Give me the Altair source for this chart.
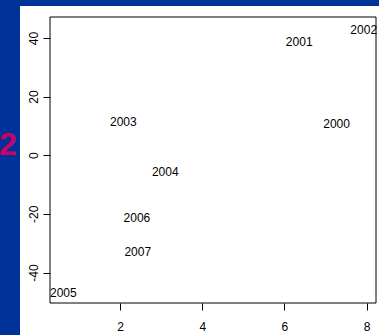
import altair as alt
import pandas as pd

# Year labels placed at their (x, y) scores
years = ["2000", "2001", "2002", "2003", "2004", "2005", "2006", "2007"]
x_vals = [7.27, 6.36, 7.93, 2.08, 3.10, 0.62, 2.41, 2.43]
y_vals = [10.8, 38.6, 42.8, 11.2, -5.8, -47.1, -21.5, -32.9]

x_ticks = [2, 4, 6, 8]
y_ticks = [-40, -20, 0, 20, 40]
x_domain = [0.295, 8.229]
y_domain = [-50.4, 47.15]

W, H = 326, 286
FONT = "Liberation Sans"
BLUE = "#003399"

df = pd.DataFrame({"year": years, "x": x_vals, "y": y_vals})
one = alt.Data(values=[{"k": 0}])

# white panel behind the plot
panel = alt.Chart(one).mark_rect(fill="white", clip=False).encode(
    x=alt.value(-30), x2=alt.value(W + 3), y=alt.value(-11), y2=alt.value(H + 32)
)

labels = alt.Chart(df).mark_text(
    font=FONT, fontSize=12, color="black", align="center", baseline="middle"
).encode(
    x=alt.X("x:Q", scale=alt.Scale(domain=x_domain, nice=False, zero=False),
            axis=alt.Axis(values=x_ticks, title=None, grid=False, domain=False,
                          tickSize=7, tickColor="black", labelPadding=11,
                          labelFont=FONT, labelFontSize=12, labelColor="black",
                          labelBaseline="top", zindex=1)),
    y=alt.Y("y:Q", scale=alt.Scale(domain=y_domain, nice=False, zero=False),
            axis=alt.Axis(values=y_ticks, title=None, grid=False, domain=False,
                          tickSize=7, tickColor="black", labelPadding=6,
                          labelFont=FONT, labelFontSize=12, labelColor="black",
                          labelAngle=270, labelAlign="center",
                          labelBaseline="alphabetic", zindex=1,
                          labelExpr="toString(datum.value)")),
    text="year:N",
)

# plot frame
frame = alt.Chart(one).mark_rect(fill=None, stroke="black", strokeWidth=1, clip=False).encode(
    x=alt.value(0), x2=alt.value(W), y=alt.value(0), y2=alt.value(H)
)

# slide number in the left margin
slide_no = alt.Chart(one).mark_text(
    text="2", font=FONT, fontSize=32, fontWeight="bold", color="#CC0066",
    align="center", baseline="middle", clip=False
).encode(x=alt.value(-42), y=alt.value(128))

chart = alt.layer(panel, labels, frame, slide_no).properties(
    width=W, height=H,
    background=BLUE,
    padding={"left": 50, "top": 17, "right": 3, "bottom": 32},
    autosize=alt.AutoSizeParams(type="none"),
).configure_view(stroke=None)

chart.save("out.html", embed_options={"renderer": "svg", "actions": False})
